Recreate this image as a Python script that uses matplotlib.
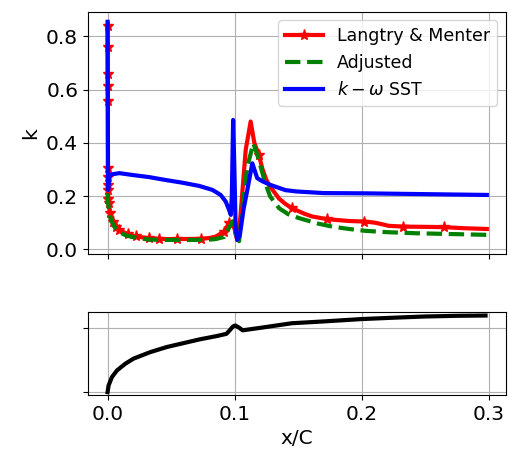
import numpy as np
import matplotlib
matplotlib.use('Agg')
import matplotlib.pyplot as plt

# Langtry & Menter transition model
lm_x = [0.0, 0.00005, 0.0001, 0.00015, 0.0002, 0.00025, 0.0003, 0.00035,
        0.0004, 0.0006, 0.0008, 0.0019, 0.0029, 0.0039, 0.0066, 0.0092,
        0.0118, 0.0157, 0.0196, 0.0223, 0.0328, 0.0406, 0.046, 0.055, 0.0734,
        0.080, 0.085, 0.0917, 0.0956, 0.098, 0.100, 0.102, 0.1045, 0.1087,
        0.1126, 0.1155, 0.119, 0.122, 0.125, 0.128, 0.135, 0.140, 0.1453,
        0.155, 0.161, 0.1728, 0.18, 0.19, 0.2017, 0.21, 0.216, 0.221, 0.2323,
        0.25, 0.2645, 0.28, 0.2985]
lm_k = [0.84, 0.762, 0.66, 0.614, 0.559, 0.305, 0.273, 0.242,
        0.223, 0.19, 0.173, 0.135, 0.118, 0.104, 0.085, 0.073,
        0.066, 0.057, 0.051, 0.048, 0.041, 0.039, 0.038, 0.038, 0.039,
        0.042, 0.047, 0.066, 0.098, 0.100, 0.075, 0.035, 0.12, 0.373,
        0.480, 0.40, 0.355, 0.30, 0.26, 0.235, 0.19, 0.17, 0.154,
        0.133, 0.123, 0.113, 0.110, 0.106, 0.104, 0.100, 0.094, 0.088, 0.085,
        0.084, 0.083, 0.079, 0.076]
lm_stars = [0, 1, 2, 3, 4, 5, 6, 7, 8, 9, 10, 11, 13, 14, 15, 17, 19, 20,
            21, 23, 24, 27, 28, 36, 42, 45, 48, 52, 54]

# adjusted model
adj_x = [0.0, 0.0005, 0.0015, 0.0025, 0.0039, 0.006, 0.0092, 0.0118, 0.015,
         0.0196, 0.025, 0.0328, 0.045, 0.0589, 0.072, 0.080, 0.085, 0.0917,
         0.0956, 0.0985, 0.1005, 0.1035, 0.107, 0.110, 0.1147, 0.1175,
         0.1205, 0.124, 0.128, 0.135, 0.142, 0.1506, 0.165, 0.1767, 0.19,
         0.203, 0.22, 0.2423, 0.27, 0.2985]
adj_k = [0.21, 0.17, 0.135, 0.115, 0.098, 0.08, 0.066, 0.058, 0.051,
         0.046, 0.041, 0.036, 0.035, 0.0345, 0.035, 0.036, 0.038, 0.046,
         0.08, 0.105, 0.060, 0.030, 0.20, 0.31, 0.398, 0.36,
         0.31, 0.25, 0.198, 0.154, 0.132, 0.117, 0.097, 0.085, 0.076,
         0.069, 0.064, 0.060, 0.057, 0.054]

# k-omega SST
sst_x = [0.0, 0.0002, 0.0004, 0.0013, 0.003, 0.0092, 0.0196, 0.0328, 0.0459,
         0.0589, 0.072, 0.0825, 0.089, 0.093, 0.0956, 0.097, 0.0978, 0.0988,
         0.0998, 0.1008, 0.102, 0.104, 0.107, 0.110, 0.1139, 0.1178, 0.122,
         0.128, 0.14, 0.149, 0.17, 0.203, 0.25, 0.2985]
sst_k = [0.855, 0.5, 0.223, 0.272, 0.281, 0.286, 0.279, 0.271, 0.26,
         0.25, 0.238, 0.223, 0.204, 0.179, 0.148, 0.129, 0.2, 0.486,
         0.3, 0.08, 0.035, 0.05, 0.15, 0.223, 0.323, 0.267, 0.255,
         0.242, 0.222, 0.217, 0.211, 0.21, 0.207, 0.204]

# lower panel
geo_x = [0.0, 0.0008, 0.0034, 0.0074, 0.0139, 0.0204, 0.0334, 0.0465,
         0.0595, 0.0726, 0.0857, 0.0935, 0.096, 0.0987, 0.1005, 0.1036,
         0.1063, 0.1207, 0.145, 0.1716, 0.2, 0.2238, 0.25, 0.2762, 0.2975]
geo_y = [0.0, 0.104, 0.233, 0.337, 0.44, 0.52, 0.62, 0.70,
         0.76, 0.82, 0.87, 0.905, 0.957, 1.02, 1.035, 1.0,
         0.96, 1.0, 1.07, 1.10, 1.135, 1.155, 1.175, 1.186, 1.19]

plt.rcParams['font.size'] = 14.5

fig = plt.figure(figsize=(5.11, 4.5), dpi=100)
ax = fig.add_axes([0.172, 0.4356, 0.818, 0.5384])
ax2 = fig.add_axes([0.172, 0.1222, 0.818, 0.1838], sharex=ax)

ax.plot(lm_x, lm_k, color='red', lw=3, marker='*', markersize=8,
        markevery=lm_stars, label='Langtry & Menter')
ax.plot(adj_x, adj_k, color='green', lw=3, ls='--', label='Adjusted')
ax.plot(sst_x, sst_k, color='blue', lw=3, label=r'$k-\omega$ SST')
ax.set_ylabel('k')
ax.set_ylim(-0.018, 0.893)
ax.set_yticks([0.0, 0.2, 0.4, 0.6, 0.8])
ax.grid(True)
ax.tick_params(labelbottom=False)
ax.legend(loc='upper right', fontsize=12.5, handlelength=2.2)

ax2.plot(geo_x, geo_y, color='black', lw=3)
ax2.set_ylim(-0.045, 1.24)
ax2.set_yticks([0, 1])
ax2.set_yticklabels([])
ax2.set_xticks([0.0, 0.1, 0.2, 0.3])
ax2.set_xlim(-0.0155, 0.3135)
ax2.grid(True)
ax2.set_xlabel('x/C')

fig.savefig('out.png', dpi=100)
